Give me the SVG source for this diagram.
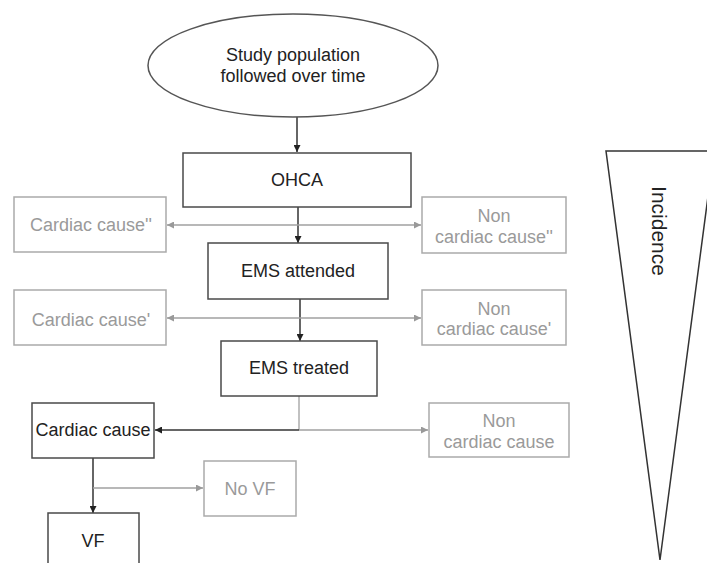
<svg xmlns="http://www.w3.org/2000/svg" width="707" height="563" viewBox="0 0 707 563">
<defs>
<style>
text{font-family:"Liberation Sans",Arial,sans-serif;font-size:18px;text-anchor:middle}
.dk{fill:#222}
.lt{fill:#9a9a9a}
.bd{fill:#fff;stroke:#4a4a4a;stroke-width:1.5}
.bl{fill:#fff;stroke:#aaaaaa;stroke-width:1.5}
.cd{fill:none;stroke:#333;stroke-width:1.5}
.cl{fill:none;stroke:#a0a0a0;stroke-width:1.3}
</style>
<marker id="ad" viewBox="0 0 10 10" refX="10" refY="5" markerWidth="7" markerHeight="7" markerUnits="userSpaceOnUse" orient="auto"><path d="M0,0L10,5L0,10z" fill="#222"/></marker>
<marker id="al" viewBox="0 0 10 10" refX="10" refY="5" markerWidth="7" markerHeight="7" markerUnits="userSpaceOnUse" orient="auto"><path d="M0,0L10,5L0,10z" fill="#999"/></marker>
</defs>
<rect width="707" height="563" fill="#fff"/>
<g id="connectors">
<path class="cd" d="M297,117V152" marker-end="url(#ad)"/>
<path class="cd" d="M298,207V243" marker-end="url(#ad)"/>
<path class="cl" d="M298,225H167" marker-end="url(#al)"/>
<path class="cl" d="M298,225H421" marker-end="url(#al)"/>
<path class="cd" d="M300,299V341" marker-end="url(#ad)"/>
<path class="cl" d="M300,318H167" marker-end="url(#al)"/>
<path class="cl" d="M300,318H421" marker-end="url(#al)"/>
<path class="cl" d="M299,396V430"/>
<path class="cd" d="M299,430H155" marker-end="url(#ad)"/>
<path class="cl" d="M299,430H428" marker-end="url(#al)"/>
<path class="cd" d="M93,458V513" marker-end="url(#ad)"/>
<path class="cl" d="M93,488H203" marker-end="url(#al)"/>
</g>
<g id="study"><ellipse cx="293" cy="65.5" rx="145" ry="51.5" fill="#fff" stroke="#555" stroke-width="1.5"/><text class="dk" x="293" y="61">Study population</text><text class="dk" x="293" y="82">followed over time</text></g>
<g id="ohca"><rect class="bd" x="183" y="153" width="228" height="54"/><text class="dk" x="297" y="186">OHCA</text></g>
<g id="cardiac2"><rect class="bl" x="14" y="197" width="152" height="55"/><text class="lt" x="91" y="231">Cardiac cause''</text></g>
<g id="noncardiac2"><rect class="bl" x="422" y="197" width="144" height="56"/><text class="lt" x="494" y="222">Non</text><text class="lt" x="494" y="243">cardiac cause''</text></g>
<g id="emsattended"><rect class="bd" x="208" y="243" width="180" height="56"/><text class="dk" x="298" y="277">EMS attended</text></g>
<g id="cardiac1"><rect class="bl" x="14" y="290" width="152" height="55"/><text class="lt" x="91" y="326">Cardiac cause'</text></g>
<g id="noncardiac1"><rect class="bl" x="422" y="290" width="144" height="55"/><text class="lt" x="494" y="315">Non</text><text class="lt" x="494" y="335">cardiac cause'</text></g>
<g id="emstreated"><rect class="bd" x="221" y="341" width="156" height="55"/><text class="dk" x="299" y="374">EMS treated</text></g>
<g id="cardiac"><rect class="bd" x="32" y="403" width="122" height="55"/><text class="dk" x="93" y="436">Cardiac cause</text></g>
<g id="noncardiac"><rect class="bl" x="429" y="403" width="140" height="54"/><text class="lt" x="499" y="427">Non</text><text class="lt" x="499" y="448">cardiac cause</text></g>
<g id="novf"><rect class="bl" x="204" y="461" width="92" height="55"/><text class="lt" x="250" y="495">No VF</text></g>
<g id="vf"><rect class="bd" x="48" y="513" width="91" height="60"/><text class="dk" x="93" y="547">VF</text></g>
<g id="incidence"><polygon points="606,151 714,151 660,560" fill="#fff" stroke="#333" stroke-width="1.5"/><text class="dk" x="652" y="231" transform="rotate(90 652 231)" style="font-size:21px">Incidence</text></g>
</svg>
